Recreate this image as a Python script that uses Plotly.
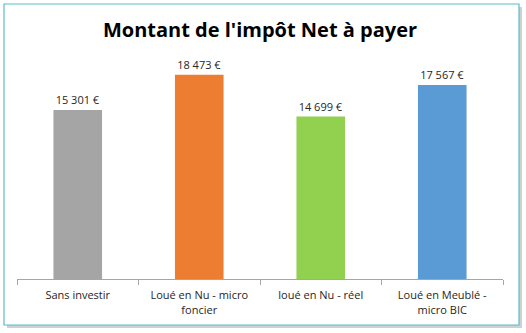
import plotly.graph_objects as go

categories = ["Sans investir", "Loué en Nu - micro<br>foncier", "loué en Nu - réel", "Loué en Meublé -<br>micro BIC"]
values = [15301, 18473, 14699, 17567]
labels = ["15 301 €", "18 473 €", "14 699 €", "17 567 €"]
colors = ["#A5A5A5", "#ED7D31", "#92D050", "#5B9BD5"]

W, H = 526, 333
L, R, T, B = 17, 23, 58, 54
pw, ph = W - L - R, H - T - B

def px(x):
    return (x - L) / pw

def py(y):
    return (H - B - y) / ph

fig = go.Figure(go.Bar(
    x=categories, y=values, marker_color=colors, marker_line_width=0,
    text=labels, textposition="outside", cliponaxis=False,
    textfont=dict(family="Open Sans, Liberation Sans, sans-serif", size=11, color="#262626"),
    width=0.4,
))

shapes = [
    # shadow
    dict(type="rect", xref="paper", yref="paper", x0=px(7), x1=px(522), y0=py(7), y1=py(328),
         line=dict(width=0), fillcolor="rgba(120,120,120,0.35)", layer="below"),
    # frame
    dict(type="rect", xref="paper", yref="paper", x0=px(4), x1=px(519), y0=py(4), y1=py(325),
         line=dict(width=1.2, color="#5BBCCB"), fillcolor="white", layer="below"),
]

fig.update_layout(
    width=W, height=H,
    margin=dict(l=L, r=R, t=T, b=B),
    paper_bgcolor="white", plot_bgcolor="rgba(0,0,0,0)",
    shapes=shapes,
    showlegend=False,
    title=dict(text="<b>Montant de l'impôt Net à payer</b>", x=0.5, xref="paper", xanchor="center",
               y=1 - 30 / H, yanchor="middle",
               font=dict(family="Open Sans, Liberation Sans, sans-serif", size=20, color="black")),
    xaxis=dict(showline=True, linecolor="#A6A6A6", linewidth=1, ticks="outside", tickson="boundaries",
               ticklen=5, tickcolor="#A6A6A6", showgrid=False, ticklabelstandoff=6,
               tickfont=dict(family="Open Sans, Liberation Sans, sans-serif", size=11, color="#262626")),
    yaxis=dict(range=[0, 20000], visible=False, showgrid=False),
)

fig.write_html("out.html")
